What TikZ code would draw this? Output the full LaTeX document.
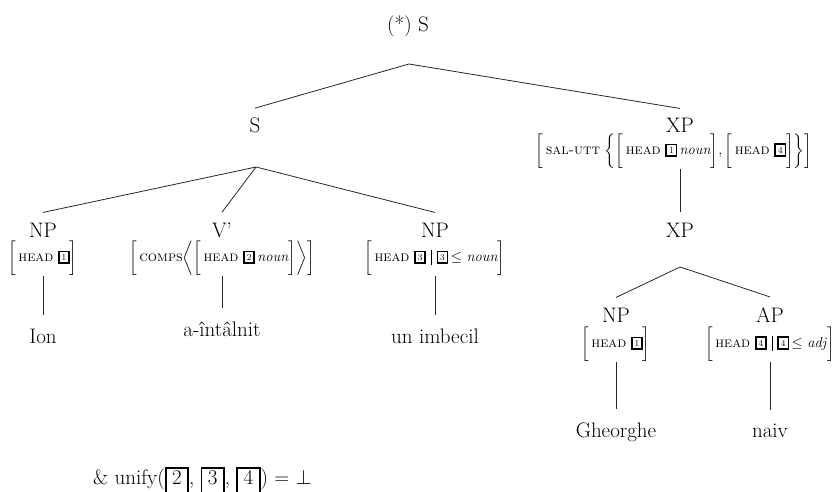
\documentclass[tikz,border=0pt]{standalone}
\usepackage{amsmath}
\newcommand{\tg}[1]{\raisebox{1.5pt}{\setlength{\fboxsep}{2pt}\setlength{\fboxrule}{1.6pt}\fbox{\fontsize{9}{9}\selectfont#1}}}
\newcommand{\ubx}[1]{{\setlength{\fboxsep}{0pt}\setlength{\fboxrule}{1.8pt}\fbox{\hspace{5.5pt}\rule[-30pt]{0pt}{45pt}#1\hspace{5.5pt}}}}
\newcommand{\avL}{$\biggl[$\,}
\newcommand{\avR}{$\biggr]$}
\newcommand{\hd}{\textsc{head}}
\newcommand{\sep}{\hspace{5pt}\rule[-3.5pt]{0.5pt}{15pt}\hspace{5pt}}
\tikzset{
  cat/.style={font=\fontsize{21}{25}\selectfont, inner sep=1pt, anchor=base},
  leaf/.style={font=\fontsize{21}{25}\selectfont, inner sep=1pt, anchor=base},
  avm/.style={font=\fontsize{14.5}{17}\selectfont, inner sep=1pt},
  edge/.style={line width=0.8pt, draw=black!85}
}
\begin{document}
\begin{tikzpicture}[x=1pt,y=-1pt]
\useasboundingbox (0,0) rectangle (838,492);
\clip (0,0) rectangle (838,492);
% root
\node[cat] (root) at (408,32) {(*) S};
\coordinate (ra) at (409,64);
\node[cat] (s) at (255,133) {S};
\node[cat] (xp) at (680,133) {XP};
\node[avm] (xpavm) at (674,151) {\avL\textsc{sal-utt}\ $\biggl\{$\avL\hd\ \tg{1}\,\textit{noun}\avR,\,\avL\hd\ \tg{4}\avR$\biggr\}$\avR};
\coordinate (sa) at (256,167);
% S children
\node[cat] (np1) at (43,237) {NP};
\node[cat] (vb) at (222,237) {V’};
\node[cat] (np2) at (435,237) {NP};
\node[avm] (np1avm) at (43,258) {\avL\hd\ \tg{1}\avR};
\node[avm] (vbavm) at (222,258) {\avL\textsc{comps}$\biggl\langle$\avL\hd\ \tg{2}\,\textit{noun}\avR$\biggr\rangle$\avR};
\node[avm] (np2avm) at (435,258) {\avL\hd\ \tg{3}\sep\tg{3}\,$\leq$\ \textit{noun}\avR};
\node[leaf] (ion) at (43,343) {Ion};
\node[leaf] (ai) at (222,336) {a-întâlnit};
\node[leaf] (ui) at (435,343) {un imbecil};
% XP subtree
\node[cat] (xp2) at (680,237) {XP};
\coordinate (xa) at (680,267);
\node[cat] (np3) at (616,322) {NP};
\node[cat] (ap) at (770,322) {AP};
\node[avm] (np3avm) at (616,344) {\avL\hd\ \tg{1}\avR};
\node[avm] (apavm) at (770,344) {\avL\hd\ \tg{4}\sep\tg{4}\,$\leq$\ \textit{adj}\avR};
\node[leaf] (gh) at (616,437) {Gheorghe};
\node[leaf] (nv) at (770,437) {naiv};
% bottom
\node[anchor=base west, inner sep=0pt, font=\fontsize{21}{25}\selectfont] (uf) at (93,484) {\& unify(\ubx{2}, \ubx{3}, \ubx{4}) $=$ $\perp$};
% edges
\draw[edge] (ra) -- ([yshift=9pt]s.north);
\draw[edge] (ra) -- ([yshift=9pt]xp.north);
\draw[edge] (sa) -- ([yshift=9pt]np1.north);
\draw[edge] (sa) -- ([yshift=9pt]vb.north);
\draw[edge] (sa) -- ([yshift=9pt]np2.north);
\draw[edge] (np1avm.south) -- ([yshift=12.5pt]ion.north);
\draw[edge] (vbavm.south) -- ([yshift=12.5pt]ai.north);
\draw[edge] (np2avm.south) -- ([yshift=12.5pt]ui.north);
\draw[edge] (xpavm.south -| xp2.north) -- ([yshift=9pt]xp2.north);
\draw[edge] (xa) -- ([yshift=9pt]np3.north);
\draw[edge] (xa) -- ([yshift=9pt]ap.north);
\draw[edge] (np3avm.south) -- ([yshift=12.5pt]gh.north);
\draw[edge] (apavm.south) -- ([yshift=12.5pt]nv.north);
\end{tikzpicture}
\end{document}
